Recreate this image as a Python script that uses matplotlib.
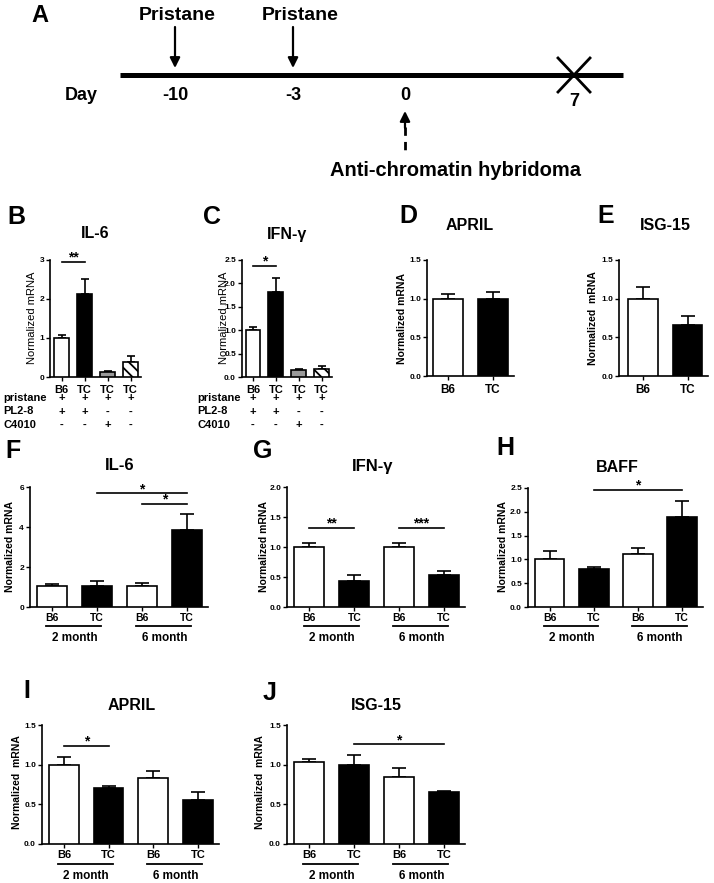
import numpy as np
import matplotlib
matplotlib.use('Agg')
import matplotlib.pyplot as plt
from matplotlib.transforms import blended_transform_factory

W, H = 714, 883
plt.rcParams['font.family'] = ['Liberation Sans', 'DejaVu Sans']
plt.rcParams['hatch.linewidth'] = 1.3

# ---------------- data ----------------
timeline_days = ['-10', '-3', '0', '7']
injection_label = 'Pristane'
hybridoma_label = 'Anti-chromatin hybridoma'

bc_labels = ['B6', 'TC', 'TC', 'TC']
b_il6 = [1.0, 2.14, 0.13, 0.39]
b_il6_err = [0.07, 0.36, 0.025, 0.15]
c_ifng = [1.0, 1.82, 0.16, 0.18]
c_ifng_err = [0.07, 0.29, 0.02, 0.05]
treat_rows = ['pristane', 'PL2-8', 'C4010']
treat_signs = [['+', '+', '+', '+'],
               ['+', '+', '-', '-'],
               ['-', '-', '+', '-']]

de_labels = ['B6', 'TC']
d_april = [1.0, 0.99]
d_april_err = [0.065, 0.10]
e_isg15 = [1.0, 0.665]
e_isg15_err = [0.15, 0.115]

age_labels = ['B6', 'TC', 'B6', 'TC']
age_groups = ['2 month', '6 month']
f_il6 = [1.04, 1.04, 1.04, 3.87]
f_il6_err = [0.09, 0.25, 0.17, 0.80]
g_ifng = [1.0, 0.44, 1.0, 0.53]
g_ifng_err = [0.07, 0.09, 0.06, 0.07]
h_baff = [1.0, 0.79, 1.12, 1.89]
h_baff_err = [0.17, 0.06, 0.13, 0.34]
i_april = [1.0, 0.71, 0.83, 0.56]
i_april_err = [0.10, 0.02, 0.09, 0.10]
j_isg15 = [1.03, 1.0, 0.845, 0.65]
j_isg15_err = [0.045, 0.12, 0.115, 0.02]

# significance: (bar_from, bar_to, y, stars)
b_sig = [(0, 1, 2.95, '**')]
c_sig = [(0, 1, 2.38, '*')]
f_sig = [(1, 3, 5.68, '*'), (2, 3, 5.16, '*')]
g_sig = [(0, 1, 1.32, '**'), (2, 3, 1.32, '***')]
h_sig = [(1, 3, 2.46, '*')]
i_sig = [(0, 1, 1.24, '*')]
j_sig = [(1, 3, 1.26, '*')]

# ---------------- figure ----------------
fig = plt.figure(figsize=(W / 100, H / 100), dpi=100)
ov = fig.add_axes([0, 0, 1, 1])
ov.set_xlim(0, W)
ov.set_ylim(H, 0)
ov.axis('off')
ov.set_zorder(5)

BOLD = 'bold'


def make_axes(x0, y0, x1, y1):
    return fig.add_axes([x0 / W, 1 - y1 / H, (x1 - x0) / W, (y1 - y0) / H])


def bar_panel(box, xlim, vals, errs, colors, hatches, width, ylim, yticks,
              yticklabels, capsize, xlabels, xfs=8, sig=(), star_fs=10,
              xpad=2.5):
    ax = make_axes(*box)
    x = np.arange(len(vals))
    bars = ax.bar(x, vals, width, color=colors, edgecolor='black',
                  linewidth=1.2, zorder=3)
    for p, h in zip(bars.patches, hatches):
        if h:
            p.set_hatch(h)
    ax.errorbar(x, vals, yerr=[np.zeros(len(vals)), errs], fmt='none',
                ecolor='black', elinewidth=1.2, capsize=capsize,
                capthick=1.2, zorder=2)
    ax.set_xlim(*xlim)
    ax.set_ylim(*ylim)
    ax.set_yticks(yticks)
    ax.set_yticklabels(yticklabels, fontsize=6, fontweight=BOLD)
    ax.set_xticks(x)
    ax.set_xticklabels(xlabels, fontsize=xfs, fontweight=BOLD)
    for s in ('top', 'right'):
        ax.spines[s].set_visible(False)
    for s in ('left', 'bottom'):
        ax.spines[s].set_linewidth(1.2)
    ax.tick_params(axis='y', length=3, width=1.0, pad=1)
    ax.tick_params(axis='x', length=3, width=1.0, pad=xpad)
    ax.patch.set_alpha(0)
    for (i0, i1, yy, txt) in sig:
        ax.plot([i0, i1], [yy, yy], color='black', lw=1.2, clip_on=False,
                zorder=4)
        ax.text((i0 + i1) / 2, yy, txt, ha='center', va='baseline',
                fontsize=star_fs, fontweight=BOLD, clip_on=False)
    return ax


def figtext(x, y, s, **kw):
    ov.text(x, y, s, **kw)


def group_labels(ax, y_line, y_text):
    tr = blended_transform_factory(ax.transData, ov.transData)
    for k, g in enumerate(age_groups):
        a = 2 * k
        ov.plot([a - 0.13, a + 1.1], [y_line, y_line], color='black', lw=1.3,
                transform=tr, clip_on=False)
        ov.text(a + 0.5, y_text, g, transform=tr, ha='center', va='center',
                fontsize=8.5, fontweight=BOLD)


# ---------------- panel A ----------------
figtext(40, 16, 'A', ha='center', va='center', fontsize=17, fontweight=BOLD)
ov.plot([120, 623], [75, 75], color='black', lw=3.6, solid_capstyle='butt')
day_x = [175, 293, 405, 574]
for xx in day_x[:2]:
    figtext(xx + (2 if xx < 200 else 7), 15, injection_label, ha='center',
            va='center', fontsize=14, fontweight=BOLD)
    ov.annotate('', xy=(xx, 68), xytext=(xx, 27),
                arrowprops=dict(arrowstyle='-|>', lw=1.6, color='black',
                                mutation_scale=15, shrinkA=0, shrinkB=0))
figtext(81, 95, 'Day', ha='center', va='center', fontsize=13, fontweight=BOLD)
for xx, d in zip(day_x, timeline_days):
    yy = 102 if d == '7' else 95
    figtext(xx, yy, d, ha='center', va='center', fontsize=13, fontweight=BOLD)
ov.plot([558, 590], [58, 92], color='black', lw=2.0)
ov.plot([558, 590], [92, 58], color='black', lw=2.0)
ov.plot([405, 405], [127, 155], color='black', lw=2.0, ls=(0, (3, 2.2)))
ov.annotate('', xy=(405, 111), xytext=(405, 128),
            arrowprops=dict(arrowstyle='-|>', lw=1.6, color='black',
                            mutation_scale=15, shrinkA=0, shrinkB=0))
figtext(456, 170, hybridoma_label, ha='center', va='center', fontsize=14.5,
        fontweight=BOLD)

# ---------------- panel B ----------------
bc_colors = ['white', 'black', '#9a9a9a', 'white']
bc_hatch = [None, None, None, '\\\\\\']
axB = bar_panel((50, 260, 141, 377), (-0.5, 3.45), b_il6, b_il6_err,
                bc_colors, bc_hatch, 0.65, (0, 3), [0, 1, 2, 3],
                ['0', '1', '2', '3'], 3, bc_labels, sig=b_sig)
axC = bar_panel((241.5, 260, 332, 377), (-0.5, 3.45), c_ifng, c_ifng_err,
                bc_colors, bc_hatch, 0.65, (0, 2.5),
                [0, 0.5, 1.0, 1.5, 2.0, 2.5],
                ['0.0', '0.5', '1.0', '1.5', '2.0', '2.5'], 3, bc_labels,
                sig=c_sig)
for ax, lx in ((axB, 3), (axC, 197)):
    tr = blended_transform_factory(ax.transData, ov.transData)
    for r, (row, signs) in enumerate(zip(treat_rows, treat_signs)):
        yy = 398 + 13.5 * r
        figtext(lx, yy, row, ha='left', va='center', fontsize=8,
                fontweight=BOLD)
        for k, sgn in enumerate(signs):
            ov.text(k, yy, sgn, transform=tr, ha='center', va='center',
                    fontsize=8, fontweight=BOLD)

figtext(16, 217, 'B', ha='center', va='center', fontsize=18, fontweight=BOLD)
figtext(212, 217, 'C', ha='center', va='center', fontsize=18, fontweight=BOLD)
figtext(95, 234, 'IL-6', ha='center', va='center', fontsize=11.5,
        fontweight=BOLD)
figtext(287, 234, 'IFN-γ', ha='center', va='center', fontsize=11.5,
        fontweight=BOLD)
figtext(32, 318, 'Normalized mRNA', rotation=90, ha='center', va='center',
        fontsize=8)
figtext(224, 318, 'Normalized mRNA', rotation=90, ha='center', va='center',
        fontsize=8)

# ---------------- panels D, E ----------------
de_colors = ['white', 'black']
axD = bar_panel((427, 260, 514, 376), (-0.47, 1.47), d_april, d_april_err,
                de_colors, [None, None], 0.667, (0, 1.5),
                [0, 0.5, 1.0, 1.5], ['0.0', '0.5', '1.0', '1.5'], 5,
                de_labels, xfs=8.5)
axE = bar_panel((619, 260, 708, 376), (-0.54, 1.46), e_isg15, e_isg15_err,
                de_colors, [None, None], 0.667, (0, 1.5),
                [0, 0.5, 1.0, 1.5], ['0.0', '0.5', '1.0', '1.5'], 5,
                de_labels, xfs=8.5)
figtext(408, 216, 'D', ha='center', va='center', fontsize=18, fontweight=BOLD)
figtext(606, 216, 'E', ha='center', va='center', fontsize=18, fontweight=BOLD)
figtext(470, 226, 'APRIL', ha='center', va='center', fontsize=11.5,
        fontweight=BOLD)
figtext(665, 226, 'ISG-15', ha='center', va='center', fontsize=11.5,
        fontweight=BOLD)
figtext(402, 318, 'Normalized mRNA', rotation=90, ha='center', va='center',
        fontsize=7.5, fontweight=BOLD)
figtext(593, 318, 'Normalized  mRNA', rotation=90, ha='center', va='center',
        fontsize=7.5, fontweight=BOLD)

# ---------------- panels F, G, H ----------------
age_colors = ['white', 'black', 'white', 'black']
nh = [None] * 4
axF = bar_panel((29.5, 487, 208, 607), (-0.5, 3.47), f_il6, f_il6_err,
                age_colors, nh, 0.667, (0, 6), [0, 2, 4, 6],
                ['0', '2', '4', '6'], 5, age_labels, xfs=7.5, sig=f_sig,
                xpad=1.2)
axG = bar_panel((287, 487, 465, 607), (-0.5, 3.47), g_ifng, g_ifng_err,
                age_colors, nh, 0.667, (0, 2.0), [0, 0.5, 1.0, 1.5, 2.0],
                ['0.0', '0.5', '1.0', '1.5', '2.0'], 5, age_labels,
                xfs=7.5, sig=g_sig, xpad=1.2)
axH = bar_panel((527.5, 488, 703, 607), (-0.5, 3.47), h_baff, h_baff_err,
                age_colors, nh, 0.667, (0, 2.5),
                [0, 0.5, 1.0, 1.5, 2.0, 2.5],
                ['0.0', '0.5', '1.0', '1.5', '2.0', '2.5'], 5, age_labels,
                xfs=7.5, sig=h_sig, xpad=1.2)
for ax in (axF, axG, axH):
    group_labels(ax, 626, 638)
figtext(13, 451, 'F', ha='center', va='center', fontsize=18, fontweight=BOLD)
figtext(263, 451, 'G', ha='center', va='center', fontsize=18, fontweight=BOLD)
figtext(505, 448, 'H', ha='center', va='center', fontsize=18, fontweight=BOLD)
figtext(120, 466, 'IL-6', ha='center', va='center', fontsize=12,
        fontweight=BOLD)
figtext(373, 466, 'IFN-γ', ha='center', va='center', fontsize=12,
        fontweight=BOLD)
figtext(617, 467, 'BAFF', ha='center', va='center', fontsize=11.5,
        fontweight=BOLD)
for xx in (10, 264, 503):
    figtext(xx, 547, 'Normalized mRNA', rotation=90, ha='center',
            va='center', fontsize=7.5, fontweight=BOLD)

# ---------------- panels I, J ----------------
axI = bar_panel((41.5, 725, 219, 844), (-0.5, 3.47), i_april, i_april_err,
                age_colors, nh, 0.667, (0, 1.5), [0, 0.5, 1.0, 1.5],
                ['0.0', '0.5', '1.0', '1.5'], 5, age_labels, xfs=8,
                sig=i_sig, xpad=1.2)
axJ = bar_panel((286.5, 725, 465, 844), (-0.5, 3.47), j_isg15, j_isg15_err,
                age_colors, nh, 0.667, (0, 1.5), [0, 0.5, 1.0, 1.5],
                ['0.0', '0.5', '1.0', '1.5'], 5, age_labels, xfs=8,
                sig=j_sig, xpad=1.2)
for ax in (axI, axJ):
    group_labels(ax, 864, 876)
figtext(27, 691, 'I', ha='center', va='center', fontsize=18, fontweight=BOLD)
figtext(270, 693, 'J', ha='center', va='center', fontsize=18, fontweight=BOLD)
figtext(132, 705, 'APRIL', ha='center', va='center', fontsize=11.5,
        fontweight=BOLD)
figtext(376, 705, 'ISG-15', ha='center', va='center', fontsize=11.5,
        fontweight=BOLD)
for xx in (17, 260):
    figtext(xx, 782, 'Normalized  mRNA', rotation=90, ha='center',
            va='center', fontsize=7.5, fontweight=BOLD)

fig.savefig('out.png', dpi=100)
